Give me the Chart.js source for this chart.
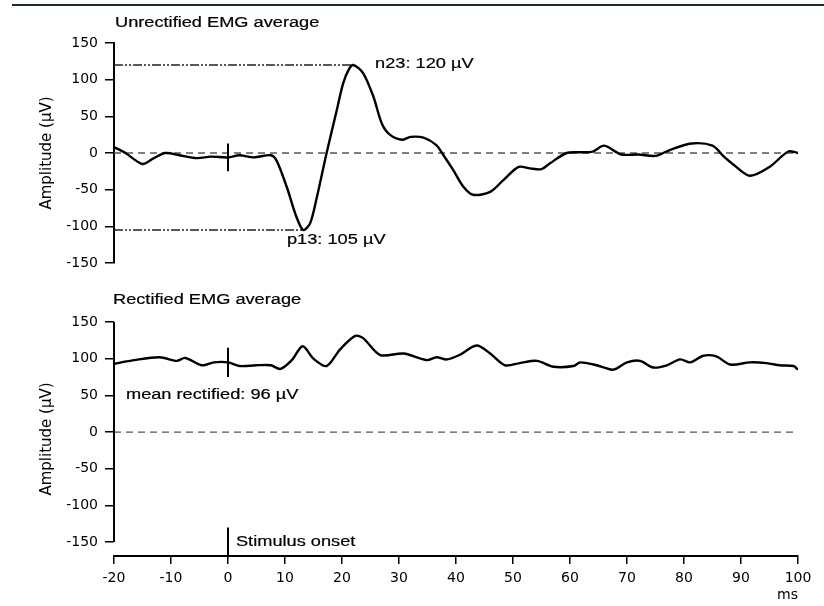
<!DOCTYPE html>
<html>
<head>
<meta charset="utf-8">
<script src="https://cdn.jsdelivr.net/npm/chart.js@4.4.1/dist/chart.umd.min.js"></script>
<style>
  body { margin: 0; background: #fff; width: 824px; height: 606px; position: relative; overflow: hidden; }
  #topline { position: absolute; left: 12px; top: 4px; width: 812px; height: 2px; background: #1c2b33; }
  #rawChart { position: absolute; left: 0; top: 0; }
  #rectChart { position: absolute; left: 0; top: 290px; }
</style>
</head>
<body>
<div id="topline"></div>
<canvas id="rawChart" width="824" height="290"></canvas>
<canvas id="rectChart" width="824" height="316"></canvas>
<script>
// time in ms, amplitude in µV
var rawTime = [-20, -18, -15, -13, -11, -8.5, -5.5, -3, 0, 2, 4.5, 7.5, 8.5, 10.3, 12, 13.2, 14.4, 15.6, 17.3, 19.1, 20.2, 21.2, 22,
  23.7, 25.5, 27, 28.4, 30.5, 32, 34.3, 36.5, 37.8, 39.5, 41.3, 43, 46, 48.3, 51, 53, 55, 56.5, 59.4, 62, 64, 66, 69, 72, 75,
  77.5, 81.3, 85, 87, 88.7, 91.6, 95, 98.3, 100];
var rawAmp = [8, 0, -15, -7, 0, -3, -7, -5, -6, -3, -6, -3, -10, -46, -87, -105, -96, -60, 0, 59, 95, 114, 120,
  109, 77, 40, 25, 18, 22, 21, 11, -3, -23, -46, -57, -53, -37, -19, -21, -22, -14, 0, 1, 2, 10, -2, -2, -4,
  4, 13, 10, -5, -16, -31, -19, 2, 0];

var rectTime = [-20, -16.5, -12, -9, -7.5, -4.6, -2.5, 0, 2, 5, 7.5, 9.2, 11.2, 13.1, 15, 17.3, 19.6, 22.3, 23.7, 26.7,
  30.8, 34.9, 36.6, 38.4, 40.6, 43.6, 46, 48.6, 51.2, 54.2, 57.1, 60.6, 61.8, 64.7, 67.6, 70, 72.3, 74.6, 77, 79.3,
  81.1, 83.4, 85.7, 88.1, 91.6, 94.5, 96.8, 99.2, 100];
var rectAmp = [93, 98, 102, 97, 101, 91, 95, 95, 90, 91, 91, 86, 98, 117, 100, 90, 112, 131, 128, 105,
  107, 98, 102, 99, 105, 118, 107, 91, 94, 97, 89, 90, 95, 91, 85, 95, 97, 88, 91, 99,
  95, 104, 103, 92, 95, 94, 91, 90, 85];

var yTicks = [-150, -100, -50, 0, 50, 100, 150];
var xMin = -20, xMax = 100;
var n23 = { time: 22, amp: 120 };
var p13 = { time: 13.2, amp: -105 };
var meanRectified = 96;

var ink = '#000';
var tickFont = { family: 'DejaVu Sans', size: 14 };

function pts(xs, ys) {
  return xs.map(function (x, i) { return { x: x, y: ys[i] }; });
}

// the figure's lettering is wide
function stretchText(ctx, text, x, y) {
  ctx.save();
  ctx.translate(x, y);
  ctx.scale(1.3, 1);
  ctx.lineWidth = 0.2;
  ctx.strokeStyle = ink;
  ctx.strokeText(text, 0, 0);
  ctx.fillText(text, 0, 0);
  ctx.restore();
}

function yScale(extra) {
  var s = {
    min: -150, max: 150,
    afterFit: function (scale) { scale.width = 80; },
    ticks: { stepSize: 50, color: ink, font: tickFont, padding: 7 },
    grid: { drawOnChartArea: false, drawTicks: true, tickLength: 9, color: ink, lineWidth: 1.5 },
    border: { display: true, color: ink, width: 2 },
    title: { display: true, text: 'Amplitude (µV)', color: ink, font: { family: 'DejaVu Sans', size: 15 }, padding: { top: 4, bottom: 4 } }
  };
  return Object.assign(s, extra || {});
}

function traceSet(data) {
  return { data: data, borderColor: ink, borderWidth: 2.4, pointRadius: 0, showLine: true, tension: 0.3, order: 0 };
}
function zeroSet() {
  return { data: [{ x: xMin, y: 0 }, { x: xMax, y: 0 }], borderColor: '#555', borderWidth: 1.3, borderDash: [7, 5], pointRadius: 0, showLine: true, order: 2 };
}
function refSet(t, a) {
  return { data: [{ x: xMin, y: a }, { x: t, y: a }], borderColor: '#222', borderWidth: 1.6, borderDash: [9, 2, 2, 2, 2, 2], pointRadius: 0, showLine: true, order: 1 };
}
function markSet(y1, y2) {
  return { data: [{ x: 0, y: y1 }, { x: 0, y: y2 }], borderColor: ink, borderWidth: 2, pointRadius: 0, showLine: true, order: 1 };
}

var common = {
  responsive: false,
  animation: false,
  plugins: { legend: { display: false }, tooltip: { enabled: false } }
};

new Chart(document.getElementById('rawChart').getContext('2d'), {
  type: 'scatter',
  data: {
    datasets: [
      traceSet(pts(rawTime, rawAmp)),
      zeroSet(),
      refSet(n23.time, n23.amp),
      refSet(p13.time, p13.amp),
      markSet(13, -25)
    ]
  },
  options: Object.assign({}, common, {
    layout: { padding: { left: 34, right: 26, top: 43, bottom: 27 } },
    scales: {
      x: { type: 'linear', min: xMin, max: xMax, display: false },
      y: yScale()
    }
  }),
  plugins: [{
    id: 'rawNotes',
    afterDraw: function (chart) {
      var ctx = chart.ctx, xs = chart.scales.x, ys = chart.scales.y, a = chart.chartArea;
      ctx.save();
      ctx.fillStyle = ink;
      ctx.font = '14px "Liberation Sans"';
      ctx.textBaseline = 'middle';
      stretchText(ctx, 'Unrectified EMG average', a.left + 1, a.top - 20);
      stretchText(ctx, 'n23: ' + n23.amp + ' µV', xs.getPixelForValue(25.8), ys.getPixelForValue(n23.amp) - 1);
      stretchText(ctx, 'p13: ' + Math.abs(p13.amp) + ' µV', xs.getPixelForValue(10.35), ys.getPixelForValue(-119));
      ctx.restore();
    }
  }]
});

new Chart(document.getElementById('rectChart').getContext('2d'), {
  type: 'scatter',
  data: {
    datasets: [
      traceSet(pts(rectTime, rectAmp)),
      zeroSet(),
      markSet(115, 75),
      markSet(-130, -169)
    ]
  },
  options: Object.assign({}, common, {
    layout: { padding: { left: 34, right: 26, top: 32, bottom: 0 } },
    scales: {
      x: {
        type: 'linear', min: xMin, max: xMax,
        afterFit: function (scale) { scale.height = 50; },
        ticks: { stepSize: 10, color: ink, font: tickFont, padding: 6, maxRotation: 0, autoSkip: false },
        grid: { drawOnChartArea: false, drawTicks: true, tickLength: 8, color: ink, lineWidth: 1.5 },
        border: { display: true, color: ink, width: 2 },
        title: { display: true, text: 'ms', align: 'end', color: ink, font: { family: 'DejaVu Sans', size: 14 }, padding: { top: 0, bottom: 2 } }
      },
      y: yScale({
        min: -169,
        afterBuildTicks: function (scale) { scale.ticks = yTicks.map(function (v) { return { value: v }; }); },
        border: { display: false }
      })
    }
  }),
  plugins: [{
    id: 'rectNotes',
    afterDraw: function (chart) {
      var ctx = chart.ctx, xs = chart.scales.x, ys = chart.scales.y, a = chart.chartArea;
      ctx.save();
      // y axis line only spans the tick range
      ctx.strokeStyle = ink;
      ctx.lineWidth = 2;
      ctx.beginPath();
      ctx.moveTo(a.left, ys.getPixelForValue(150));
      ctx.lineTo(a.left, ys.getPixelForValue(-150));
      ctx.stroke();
      ctx.fillStyle = ink;
      ctx.font = '14px "Liberation Sans"';
      ctx.textBaseline = 'middle';
      stretchText(ctx, 'Rectified EMG average', a.left - 1, a.top - 22);
      stretchText(ctx, 'mean rectified: ' + meanRectified + ' µV', xs.getPixelForValue(-17.9), ys.getPixelForValue(50.5));
      stretchText(ctx, 'Stimulus onset', xs.getPixelForValue(1.4), ys.getPixelForValue(-150));
      ctx.restore();
    }
  }]
});
</script>
</body>
</html>
